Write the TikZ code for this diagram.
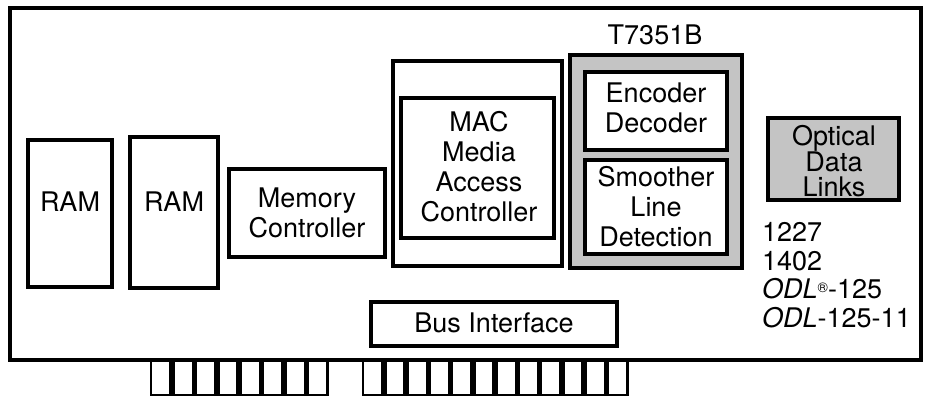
\documentclass[tikz,border=0pt]{standalone}
\usepackage{fontspec}
\setmainfont{TeX Gyre Heros}
\begin{document}
\begin{tikzpicture}[x=1pt,y=-1pt,
  every node/.style={inner sep=0pt, font=\fontsize{27}{30}\selectfont},
  board/.style={line width=3.2pt, line join=miter},
  chip/.style={draw, line width=3.4pt},
  thickchip/.style={draw, line width=4.4pt},
  shaded/.style={fill=black!23},
  pin/.style={line width=2.8pt, line join=miter},
  lbl/.style={anchor=base, align=center},
  lst/.style={anchor=base west}]
\useasboundingbox (0,0) rectangle (929,398);

% board outline
\draw[board] (10,8) rectangle (921,360);

% edge connector fingers
\foreach \i in {0,...,7}{
  \draw[pin] (151+\i*22.4,360) -- (151+\i*22.4,395) -- (170.5+\i*22.4,395) -- (170.5+\i*22.4,360);
}
\foreach \i in {0,...,11}{
  \draw[pin] (363+\i*22.25,360) -- (363+\i*22.25,395) -- (382.5+\i*22.25,395) -- (382.5+\i*22.25,360);
}

% memory
\draw[chip] (28,140) rectangle (112,287);
\node[lbl] (ram1) at (70,212) {RAM};
\draw[chip] (130,137) rectangle (218,288);
\node[lbl] (ram2) at (174,212) {RAM};
\draw[chip] (229,169) rectangle (385,257);
\node[lbl] (memctrl) at (307,237) {Memory\\Controller};

% MAC
\draw[chip] (393,61) rectangle (562,266);
\draw[chip] (401,98) rectangle (554,238);
\node[lbl] (mac) at (479,222) {MAC\\Media\\Access\\Controller};

% T7351B
\node[lbl] (t7351b) at (655,45) {T7351B};
\draw[thickchip, shaded] (570,55) rectangle (742,268);
\draw[thickchip, fill=white] (585,72) rectangle (727,150);
\node[lbl] (encdec) at (656,133) {Encoder\\Decoder};
\draw[thickchip, fill=white] (585,160) rectangle (727,254);
\node[lbl] (smoother) at (656,247) {Smoother\\Line\\Detection};

% optical data links
\draw[thickchip, shaded] (768,118) rectangle (899,200);
\node[lbl, font=\fontsize{27}{25}\selectfont] (odl) at (834,197) {Optical\\Data\\Links};
\node[lst] (p1227) at (762,242) {1227};
\node[lst] (p1402) at (762,270) {1402};
\node[lst] (podl) at (762,298) {\textit{ODL}\raisebox{0.4ex}{\fontsize{14}{14}\selectfont ®}-125};
\node[lst] (podl11) at (762,327) {\textit{ODL}-125-11};

% bus interface
\draw[chip] (371,302) rectangle (617,346);
\node[lbl] (bus) at (494,332) {Bus Interface};
\end{tikzpicture}
\end{document}
